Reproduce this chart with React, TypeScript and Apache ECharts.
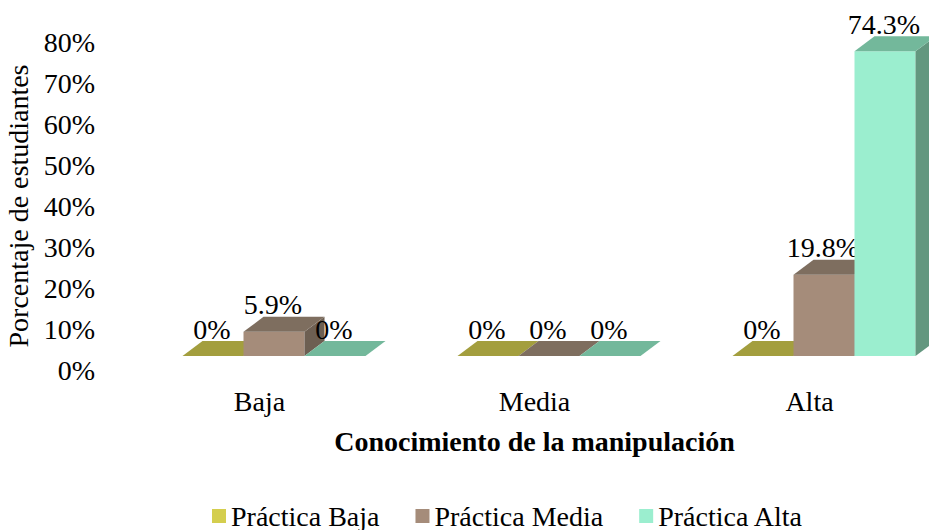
import React, { useEffect, useRef } from "react";
import * as echarts from "echarts";

const categories = ["Baja", "Media", "Alta"];
const seriesNames = ["Práctica Baja", "Práctica Media", "Práctica Alta"];
const practicaBaja = [0, 0, 0];
const practicaMedia = [5.9, 0, 19.8];
const practicaAlta = [0, 0, 74.3];
const yTicks = [0, 10, 20, 30, 40, 50, 60, 70, 80];

const palette = [
  { legend: "#d4ce4e", front: "#d4ce4e", top: "#a39e3e", side: "#8a8634" },
  { legend: "#a58c7a", front: "#a58c7a", top: "#7e6e5f", side: "#6d5f52" },
  { legend: "#9beecf", front: "#9beecf", top: "#73b89b", side: "#63977f" },
];

const FONT = '"Liberation Serif", "Times New Roman", serif';
const FS = 28;

export default function App() {
  const ref = useRef<HTMLDivElement>(null);
  useEffect(() => {
    if (!ref.current) return;
    const chart = echarts.init(ref.current, undefined, { renderer: "svg" });
    const all = [practicaBaja, practicaMedia, practicaAlta];
    const BAR_W = 61;
    const DX = 20;
    const DY = -15;
    const LIFT = 14;

    const makeSeries = (k: number) => ({
      type: "custom",
      name: seriesNames[k],
      itemStyle: { color: palette[k].legend },
      data: all[k].map((v, i) => [i, v]),
      encode: { x: 0, y: 1 },
      z: 2 + k,
      renderItem: (params: any, api: any) => {
        const ci = api.value(0);
        const v = api.value(1);
        const p0 = api.coord([ci, 0]);
        const p1 = api.coord([ci, v]);
        const left = p0[0] - 77 + BAR_W * k;
        const right = left + BAR_W;
        const bottom = p0[1] - LIFT;
        const top = p1[1] - LIFT;
        const c = palette[k];
        const children: any[] = [];
        if (bottom - top > 0.5) {
          children.push({
            type: "rect",
            shape: { x: left, y: top, width: BAR_W, height: bottom - top },
            style: { fill: c.front },
          });
          children.push({
            type: "polygon",
            shape: {
              points: [
                [right, top],
                [right + DX, top + DY],
                [right + DX, bottom + DY],
                [right, bottom],
              ],
            },
            style: { fill: c.side },
          });
        }
        children.push({
          type: "polygon",
          shape: {
            points: [
              [left, top],
              [right, top],
              [right + DX, top + DY],
              [left + DX, top + DY],
            ],
          },
          style: { fill: c.top },
        });
        children.push({
          type: "text",
          z2: 10,
          style: {
            text: v + "%",
            x: (left + right) / 2 - 1,
            y: top + DY + 2,
            textAlign: "center",
            textVerticalAlign: "bottom",
            fontSize: FS,
            fontFamily: FONT,
            fill: "#000",
          },
        });
        return { type: "group", children };
      },
    });

    chart.setOption({
      animation: false,
      textStyle: { fontFamily: FONT },
      grid: { left: 122, top: 42, width: 825, height: 328, containLabel: false, outerBoundsMode: "none" },
      legend: {
        data: seriesNames,
        left: 212,
        top: 502,
        padding: 0,
        icon: "rect",
        itemWidth: 14,
        itemHeight: 14,
        itemGap: 36,
        textStyle: { fontSize: FS, lineHeight: 26, fontFamily: FONT, color: "#000" },
      },
      xAxis: {
        type: "category",
        data: categories,
        axisLine: { show: false },
        axisTick: { show: false },
        axisLabel: { fontSize: FS, fontFamily: FONT, color: "#000", margin: 17 },
        name: "Conocimiento de la manipulación",
        nameLocation: "middle",
        nameGap: 57,
        nameTextStyle: { fontSize: FS, fontWeight: "bold", fontFamily: FONT, color: "#000" },
      },
      yAxis: {
        type: "value",
        min: yTicks[0],
        max: yTicks[yTicks.length - 1],
        interval: 10,
        splitLine: { show: false },
        axisLine: { show: false },
        axisTick: { show: false },
        axisLabel: {
          fontSize: FS,
          fontFamily: FONT,
          color: "#000",
          margin: 27,
          formatter: (v: number) => v + "%",
        },
        name: "Porcentaje de estudiantes",
        nameLocation: "middle",
        nameGap: 88,
        nameTextStyle: { fontSize: FS, fontFamily: FONT, color: "#000" },
      },
      series: [0, 1, 2].map(makeSeries),
    });
    return () => chart.dispose();
  }, []);
  return (
    <div
      ref={ref}
      style={{ position: "fixed", left: 0, top: 0, width: 929, height: 530, background: "#fff" }}
    />
  );
}
